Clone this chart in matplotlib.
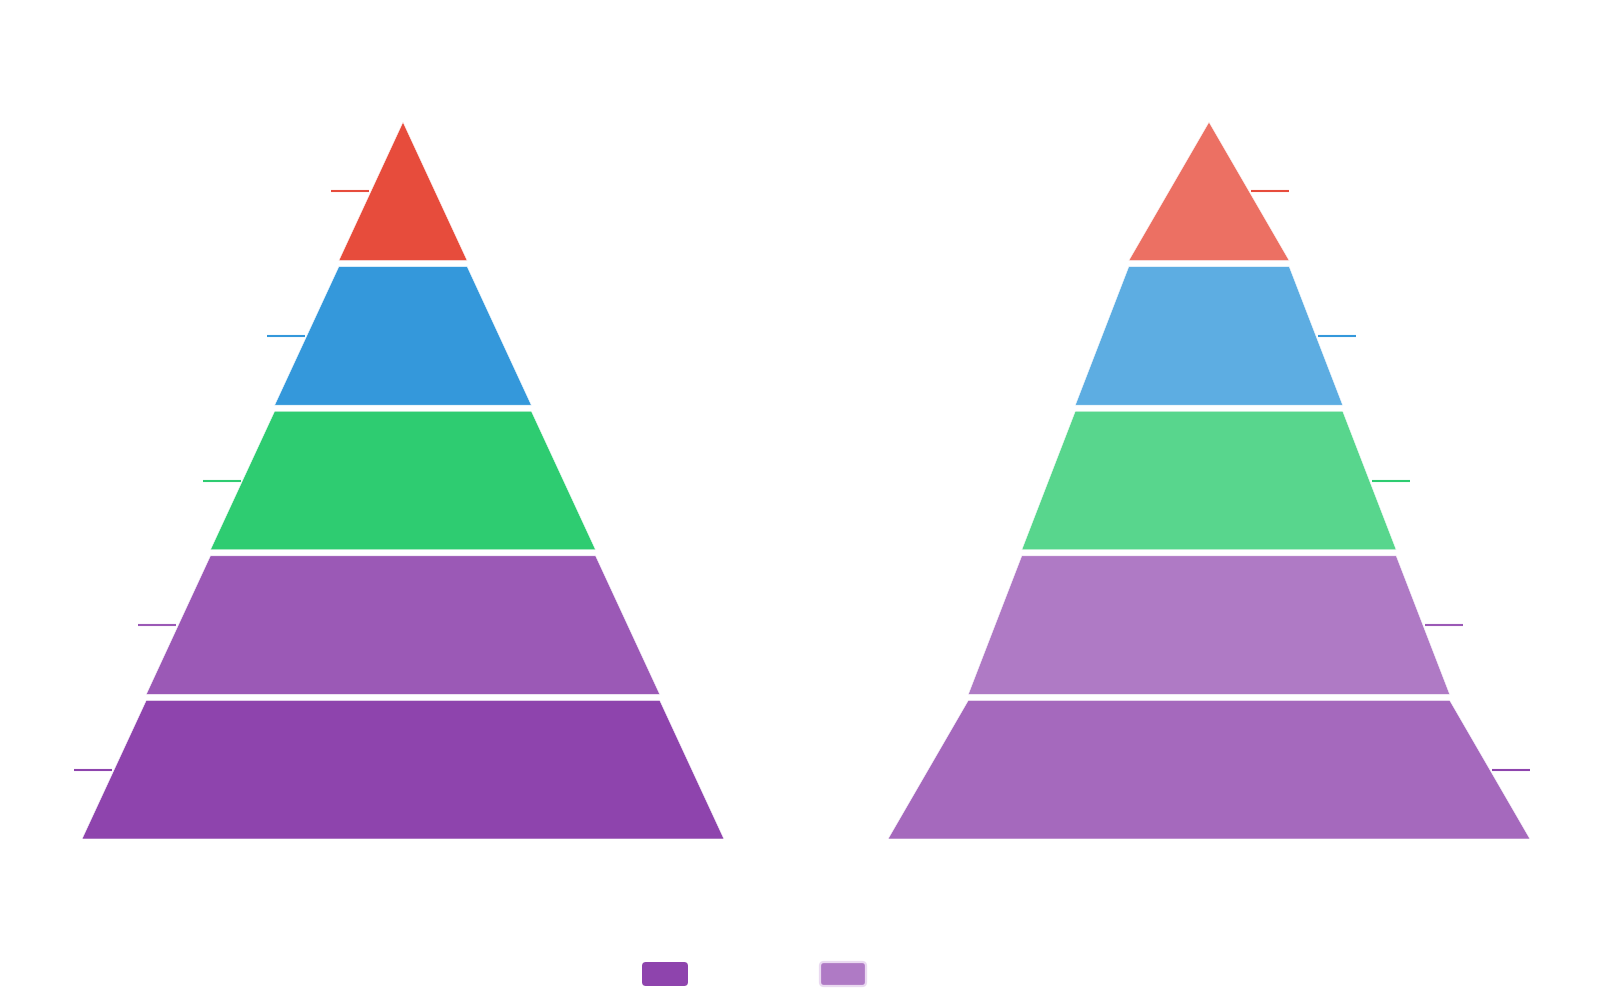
import numpy as np
import matplotlib.pyplot as plt
from matplotlib.patches import Polygon, FancyBboxPatch
from matplotlib.colors import to_rgb

# funnel data, top layer first (each layer's bottom width = its value)
stages = ['Stage 1', 'Stage 2', 'Stage 3', 'Stage 4', 'Stage 5']
left_values = [20, 40, 60, 80, 100]
right_values = [30, 50, 70, 90, 120]
left_max = 100
right_max = 120
colors = ['#e74c3c', '#3498db', '#2ecc71', '#9b59b6', '#8e44ad']
series_names = ['', '']  # legend text is blank in the reference

W, H = 1612, 1000
TOP, BOTTOM, GAP = 122, 839, 6
MAX_W = 642


def faded(c, alpha=0.8):
    r, g, b = to_rgb(c)
    return (1 - alpha + alpha * r, 1 - alpha + alpha * g, 1 - alpha + alpha * b)


def draw_funnel(ax, cx, values, vmax, side, alpha=1.0):
    n = len(values)
    h = (BOTTOM - TOP - GAP * (n - 1)) / n
    for i, v in enumerate(values):
        y0 = TOP + i * (h + GAP)
        y1 = y0 + h
        w0 = 0 if i == 0 else values[i - 1] / vmax * MAX_W
        w1 = v / vmax * MAX_W
        fc = colors[i] if alpha == 1.0 else faded(colors[i], alpha)
        poly = Polygon([(cx - w0 / 2, y0), (cx + w0 / 2, y0),
                        (cx + w1 / 2, y1), (cx - w1 / 2, y1)],
                       closed=True, facecolor=fc, edgecolor='white', lw=0.4)
        ax.add_patch(poly)
        # label line at the layer mid height
        ym = (y0 + y1) / 2
        half = (w0 + w1) / 4
        if side == 'left':
            xs = [cx - half - 2, cx - half - 40]
        else:
            xs = [cx + half + 2, cx + half + 40]
        ax.plot(xs, [ym, ym], color=colors[i], lw=1.5, solid_capstyle='butt')


fig = plt.figure(figsize=(W / 100, H / 100), dpi=100)
ax = fig.add_axes([0, 0, 1, 1])
ax.set_xlim(0, W)
ax.set_ylim(H, 0)
ax.axis('off')

draw_funnel(ax, 403, left_values, left_max, 'left')
draw_funnel(ax, 1209, right_values, right_max, 'right', alpha=0.8)

# legend swatches
ax.add_patch(FancyBboxPatch((642, 962), 46, 24, boxstyle='round,pad=0,rounding_size=4',
                            facecolor='#8e44ad', edgecolor='none'))
ax.add_patch(FancyBboxPatch((820, 962), 46, 24, boxstyle='round,pad=0,rounding_size=4',
                            facecolor=faded('#9b59b6'), edgecolor='#ead9f1', lw=1.6))

fig.savefig('out.png', dpi=100, facecolor='white')
